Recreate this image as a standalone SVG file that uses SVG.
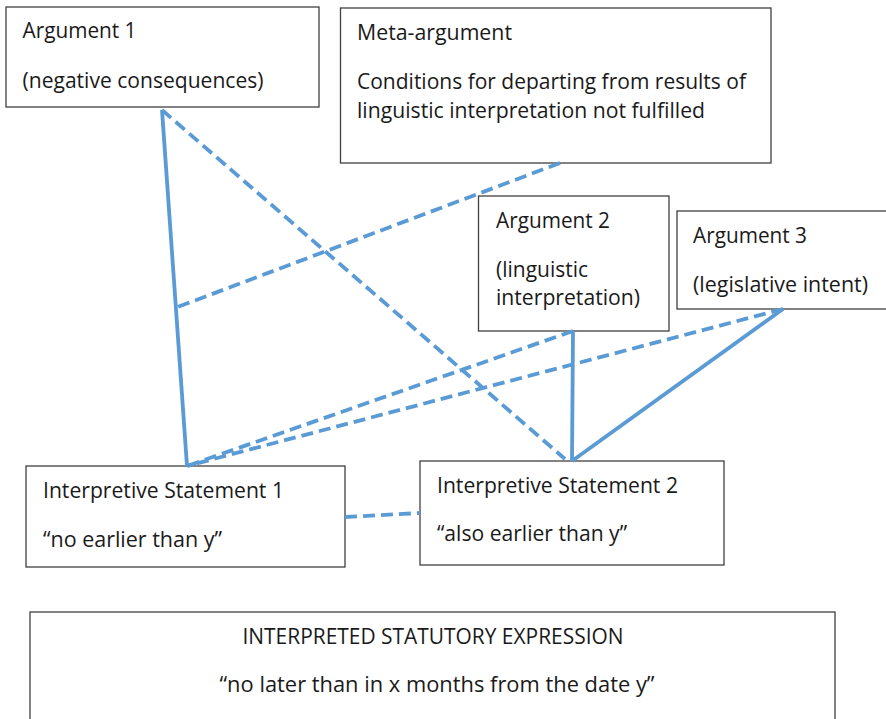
<svg xmlns="http://www.w3.org/2000/svg" width="886" height="719" viewBox="0 0 886 719">
<style>
.box{fill:#fff;stroke:#404040;stroke-width:1.3}
.t{font-family:"Open Sans","Noto Sans","Liberation Sans",sans-serif;font-size:22px;fill:#1a1a1a}
.b{font-size:21px}
.ln{stroke:#5B9BD5;stroke-width:3.8;fill:none;stroke-linecap:butt}
.d{stroke-dasharray:12 6}
</style>
<rect width="886" height="719" fill="#fff"/>
<g id="arg1">
<rect class="box" x="6" y="7" width="313" height="100"/>
<text class="t" x="22.5" y="38" textLength="114" lengthAdjust="spacingAndGlyphs">Argument 1</text>
<text class="t" x="22.5" y="88" textLength="241" lengthAdjust="spacingAndGlyphs">(negative consequences)</text>
</g>
<g id="meta">
<rect class="box" x="340.5" y="8" width="430.5" height="155"/>
<text class="t" x="357" y="40" textLength="155" lengthAdjust="spacingAndGlyphs">Meta-argument</text>
<text class="t" x="357" y="89" textLength="389" lengthAdjust="spacingAndGlyphs">Conditions for departing from results of</text>
<text class="t" x="357" y="118" textLength="348" lengthAdjust="spacingAndGlyphs">linguistic interpretation not fulfilled</text>
</g>
<g id="arg2">
<rect class="box" x="478.5" y="196" width="190.5" height="135"/>
<text class="t" x="496" y="228" textLength="114" lengthAdjust="spacingAndGlyphs">Argument 2</text>
<text class="t" x="496" y="277" textLength="92" lengthAdjust="spacingAndGlyphs">(linguistic</text>
<text class="t" x="496" y="305" textLength="144" lengthAdjust="spacingAndGlyphs">interpretation)</text>
</g>
<g id="arg3">
<rect class="box" x="677" y="211" width="215" height="98"/>
<text class="t" x="693" y="243" textLength="114" lengthAdjust="spacingAndGlyphs">Argument 3</text>
<text class="t" x="693" y="292" textLength="175" lengthAdjust="spacingAndGlyphs">(legislative intent)</text>
</g>
<g id="is1">
<rect class="box" x="26" y="466" width="319" height="101"/>
<text class="t" x="43" y="498" textLength="241" lengthAdjust="spacingAndGlyphs">Interpretive Statement 1</text>
<text class="t" x="43" y="547" textLength="179" lengthAdjust="spacingAndGlyphs">“no earlier than y”</text>
</g>
<g id="is2">
<rect class="box" x="420" y="461" width="304" height="104"/>
<text class="t" x="437" y="493" textLength="241" lengthAdjust="spacingAndGlyphs">Interpretive Statement 2</text>
<text class="t" x="437" y="541" textLength="190" lengthAdjust="spacingAndGlyphs">“also earlier than y”</text>
</g>
<g id="expression">
<rect class="box" x="30" y="612" width="805" height="120"/>
<text class="t b" x="433" y="644" text-anchor="middle" textLength="381" lengthAdjust="spacingAndGlyphs">INTERPRETED STATUTORY EXPRESSION</text>
<text class="t b" x="437" y="692" text-anchor="middle" textLength="435" lengthAdjust="spacingAndGlyphs">“no later than in x months from the date y”</text>
</g>
<g id="connectors">
<line class="ln" x1="162" y1="110" x2="187" y2="466"/>
<line class="ln d" x1="162" y1="110" x2="565" y2="459"/>
<line class="ln d" x1="560" y1="163" x2="175" y2="308"/>
<line class="ln d" x1="573" y1="331" x2="187" y2="466"/>
<line class="ln d" x1="783" y1="309" x2="187" y2="466"/>
<line class="ln" x1="573" y1="331" x2="572" y2="461"/>
<line class="ln" x1="783" y1="309" x2="572" y2="461"/>
<line class="ln d" x1="345" y1="517" x2="420" y2="513"/>
</g>
</svg>
